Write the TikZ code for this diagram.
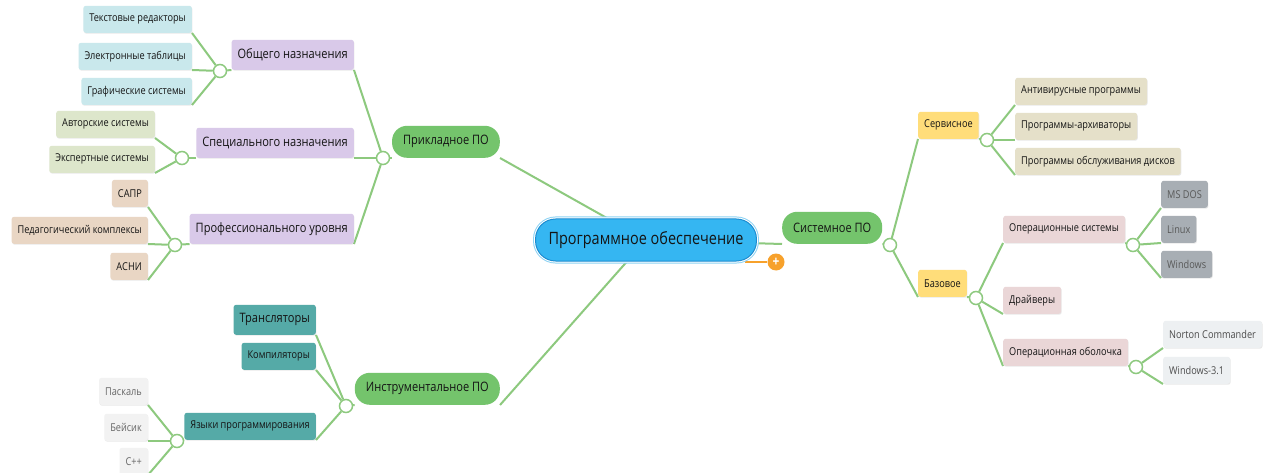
\documentclass[tikz,border=0pt]{standalone}
\usepackage{fontspec}
\setmainfont{Open Sans}[FakeStretch=0.85]
\usetikzlibrary{backgrounds,shadows}
\definecolor{branch}{HTML}{8DC97E}
\definecolor{rootfill}{HTML}{35B6F2}
\definecolor{rootline}{HTML}{1C8CD0}
\definecolor{rootring}{HTML}{8ED3F4}
\definecolor{mainfill}{HTML}{74C46C}
\definecolor{lilac}{HTML}{D9C9E9}
\definecolor{aqua}{HTML}{C9E8EC}
\definecolor{sage}{HTML}{DDE6CB}
\definecolor{sand}{HTML}{E9D6C4}
\definecolor{tealbox}{HTML}{55AAA7}
\definecolor{pale}{HTML}{F2F2F2}
\definecolor{gold}{HTML}{FFDD7A}
\definecolor{khaki}{HTML}{E5E0C9}
\definecolor{rose}{HTML}{EAD6D7}
\definecolor{slate}{HTML}{A8AEB4}
\definecolor{mist}{HTML}{EDF0F2}
\definecolor{plusfill}{HTML}{F7A12B}
\begin{document}
\begin{tikzpicture}[x=1pt, y=-1pt,
    every node/.style={text=black!92},
    link/.style={draw=branch, line width=2pt},
    knot/.style={circle, draw=branch, line width=1.5pt, fill=white, minimum size=13pt, inner sep=0pt},
    box/.style={rounded corners=2.5pt, inner xsep=6pt, inner ysep=0pt, minimum height=27pt, font=\fontsize{10.8}{12}\selectfont,
      drop shadow={shadow xshift=0.6pt, shadow yshift=-0.9pt, opacity=0.18}},
    midbox/.style={box, minimum height=30pt, font=\fontsize{13}{15}\selectfont},
    mainbox/.style={fill=mainfill, rounded corners=15pt, inner xsep=11pt, inner ysep=0pt, minimum height=32pt, font=\fontsize{13}{15}\selectfont},
    rootbox/.style={fill=rootfill, draw=rootline, line width=1pt, rounded corners=20pt, minimum height=42pt, inner xsep=13pt,
      font=\fontsize{17}{20}\selectfont, preaction={draw=rootring, line width=5pt}, preaction={draw=white, line width=3pt}}]
    \useasboundingbox (0,0) rectangle (1266,473);
    % 中心
    \node[rootbox] (po) at (646,240) {Программное обеспечение};
    \node[circle, fill=plusfill, minimum size=17pt, inner sep=0pt, text=white, font=\bfseries\fontsize{14}{14}\selectfont] (plus) at (776,262) {+};
    \coordinate (tab) at (745,262);
    % 第一层
    \node[mainbox, anchor=south east] (appl) at (500,158) {Прикладное ПО};
    \node[mainbox, anchor=south east] (instr) at (500,405) {Инструментальное ПО};
    \node[mainbox, anchor=south west] (sys) at (782,244) {Системное ПО};
    % 节点圆
    \node[knot] (kappl) at (383,158) {};
    \node[knot] (kgen) at (220,71) {};
    \node[knot] (kspec) at (182,158) {};
    \node[knot] (kprof) at (175,245) {};
    \node[knot] (kinstr) at (346,406) {};
    \node[knot] (klang) at (177,441) {};
    \node[knot] (ksys) at (890,245) {};
    \node[knot] (kserv) at (987,140) {};
    \node[knot] (kbase) at (976,298) {};
    \node[knot] (kos) at (1133,245) {};
    \node[knot] (kshell) at (1136,367) {};
    % 左上
    \node[midbox, fill=lilac, anchor=south east] (gen) at (354,70) {Общего назначения};
    \node[midbox, fill=lilac, anchor=south east] (spec) at (354,158) {Специального назначения};
    \node[midbox, fill=lilac, anchor=south east] (prof) at (354,244) {Профессионального уровня};
    \node[box, fill=aqua, anchor=south east] (txt) at (192,33) {Текстовые редакторы};
    \node[box, fill=aqua, anchor=south east] (sheet) at (192,70) {Электронные таблицы};
    \node[box, fill=aqua, anchor=south east] (graph) at (192,105) {Графические системы};
    \node[box, fill=sage, anchor=south east] (auth) at (155,138) {Авторские системы};
    \node[box, fill=sage, anchor=south east] (expert) at (155,173) {Экспертные системы};
    \node[box, fill=sand, anchor=south east] (cad) at (148,207) {САПР};
    \node[box, fill=sand, anchor=south east] (ped) at (148,244) {Педагогический комплексы};
    \node[box, fill=sand, anchor=south east] (asni) at (148,280) {АСНИ};
    % 左下
    \node[midbox, fill=tealbox, anchor=south east] (trans) at (316,335) {Трансляторы};
    \node[box, fill=tealbox, anchor=south east] (comp) at (316,370) {Компиляторы};
    \node[box, fill=tealbox, anchor=south east] (lang) at (316,440) {Языки программирования};
    \node[box, fill=pale, text=black!60, anchor=south east] (pascal) at (148,405) {Паскаль};
    \node[box, fill=pale, text=black!60, anchor=south east] (basic) at (148,441) {Бейсик};
    \node[box, fill=pale, text=black!60, anchor=south east] (cpp) at (148,475) {C++};
    % 右侧
    \node[box, fill=gold, anchor=south west] (serv) at (918,139) {Сервисное};
    \node[box, fill=gold, anchor=south west] (base) at (918,297) {Базовое};
    \node[box, fill=khaki, anchor=south west] (anti) at (1015,105) {Антивирусные программы};
    \node[box, fill=khaki, anchor=south west] (arch) at (1015,140) {Программы-архиваторы};
    \node[box, fill=khaki, anchor=south west] (disk) at (1015,175) {Программы обслуживания дисков};
    \node[box, fill=rose, anchor=south west] (os) at (1003,243) {Операционные системы};
    \node[box, fill=rose, anchor=south west] (drv) at (1003,314) {Драйверы};
    \node[box, fill=rose, anchor=south west] (shell) at (1003,366) {Операционная оболочка};
    \node[box, fill=slate, text=black!65, anchor=south west] (msdos) at (1161,208) {MS DOS};
    \node[box, fill=slate, text=black!65, anchor=south west] (linux) at (1161,243) {Linux};
    \node[box, fill=slate, text=black!65, anchor=south west] (win) at (1161,278) {Windows};
    \node[box, fill=mist, text=black!70, anchor=south west] (norton) at (1163,348) {Norton Commander};
    \node[box, fill=mist, text=black!70, anchor=south west] (win31) at (1163,384) {Windows-3.1};
    % 连线
    \begin{scope}[on background layer]
      \fill[white] (0,0) rectangle (1266,473);
      \draw[plusfill, line width=1.8pt] (tab) -- (plus);
      \draw[link] (appl.south east) -- (po);
      \draw[link] (instr.south east) -- (po);
      \draw[link] (sys.south west) -- (po);
      \draw[link] (appl.south west) -- (kappl);
      \foreach \n in {gen,spec,prof} \draw[link] (kappl) -- (\n.south east);
      \draw[link] (gen.south west) -- (kgen);
      \foreach \n in {txt,sheet,graph} \draw[link] (kgen) -- (\n.south east);
      \draw[link] (spec.south west) -- (kspec);
      \foreach \n in {auth,expert} \draw[link] (kspec) -- (\n.south east);
      \draw[link] (prof.south west) -- (kprof);
      \foreach \n in {cad,ped,asni} \draw[link] (kprof) -- (\n.south east);
      \draw[link] (instr.south west) -- (kinstr);
      \foreach \n in {trans,comp,lang} \draw[link] (kinstr) -- (\n.south east);
      \draw[link] (lang.south west) -- (klang);
      \foreach \n in {pascal,basic,cpp} \draw[link] (klang) -- (\n.south east);
      \draw[link] (sys.south east) -- (ksys);
      \foreach \n in {serv,base} \draw[link] (ksys) -- (\n.south west);
      \draw[link] (serv.south east) -- (kserv);
      \foreach \n in {anti,arch,disk} \draw[link] (kserv) -- (\n.south west);
      \draw[link] (base.south east) -- (kbase);
      \foreach \n in {os,drv,shell} \draw[link] (kbase) -- (\n.south west);
      \draw[link] (os.south east) -- (kos);
      \foreach \n in {msdos,linux,win} \draw[link] (kos) -- (\n.south west);
      \draw[link] (shell.south east) -- (kshell);
      \foreach \n in {norton,win31} \draw[link] (kshell) -- (\n.south west);
    \end{scope}
\end{tikzpicture}
\end{document}
